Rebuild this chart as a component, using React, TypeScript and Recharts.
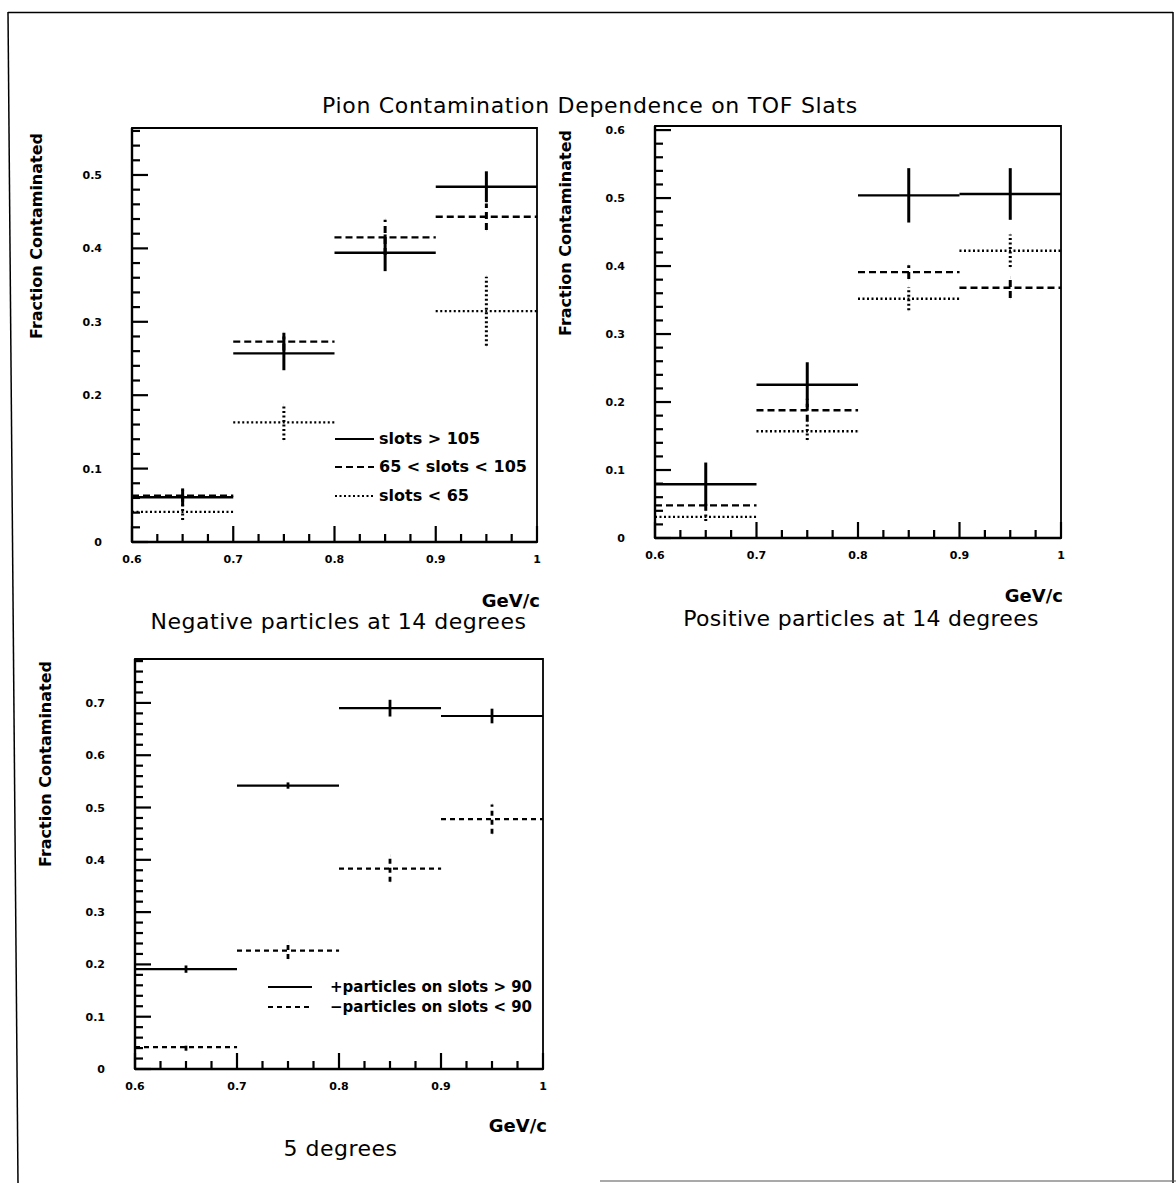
import React from 'react';
import { ComposedChart, Scatter, ErrorBar, XAxis, YAxis, ReferenceArea } from 'recharts';

const FONT = '"DejaVu Sans", sans-serif';

// ---------- data ----------
const binCenters = [0.65, 0.75, 0.85, 0.95];
const binHalfWidths = [0.05, 0.05, 0.05, 0.05];

// Negative particles at 14 degrees
const negGt105 = [0.061, 0.257, 0.394, 0.484];
const negGt105Err = [0.012, 0.023, 0.025, 0.021];
const neg65to105 = [0.063, 0.273, 0.415, 0.443];
const neg65to105Err = [0.008, 0.012, 0.024, 0.018];
const negLt65 = [0.041, 0.163, null, 0.3145];
const negLt65Err = [0.011, 0.024, null, 0.047];

// Positive particles at 14 degrees
const posGt105 = [0.079, 0.2255, 0.504, 0.506];
const posGt105Err = [0.032, 0.033, 0.04, 0.038];
const pos65to105 = [0.048, 0.188, 0.391, 0.368];
const pos65to105Err = [0.008, 0.017, 0.01, 0.015];
const posLt65 = [0.031, 0.157, 0.352, 0.4225];
const posLt65Err = [0.006, 0.013, 0.017, 0.024];

// 5 degrees
const deg5PlusGt90 = [0.191, 0.542, 0.69, 0.675];
const deg5PlusGt90Err = [0.007, 0.006, 0.016, 0.014];
const deg5MinusLt90 = [0.042, 0.2265, 0.383, 0.478];
const deg5MinusLt90Err = [0.007, 0.016, 0.025, 0.028];

// ticks
const xTicks = [0.6, 0.625, 0.65, 0.675, 0.7, 0.725, 0.75, 0.775, 0.8, 0.825, 0.85, 0.875, 0.9, 0.925, 0.95, 0.975, 1.0];
const yTicksNeg14 = [0, 0.02, 0.04, 0.06, 0.08, 0.1, 0.12, 0.14, 0.16, 0.18, 0.2, 0.22, 0.24, 0.26, 0.28, 0.3, 0.32, 0.34, 0.36, 0.38, 0.4, 0.42, 0.44, 0.46, 0.48, 0.5, 0.52, 0.54, 0.56];
const yTicksPos14 = [0, 0.02, 0.04, 0.06, 0.08, 0.1, 0.12, 0.14, 0.16, 0.18, 0.2, 0.22, 0.24, 0.26, 0.28, 0.3, 0.32, 0.34, 0.36, 0.38, 0.4, 0.42, 0.44, 0.46, 0.48, 0.5, 0.52, 0.54, 0.56, 0.58, 0.6];
const yTicks5 = [0, 0.02, 0.04, 0.06, 0.08, 0.1, 0.12, 0.14, 0.16, 0.18, 0.2, 0.22, 0.24, 0.26, 0.28, 0.3, 0.32, 0.34, 0.36, 0.38, 0.4, 0.42, 0.44, 0.46, 0.48, 0.5, 0.52, 0.54, 0.56, 0.58, 0.6, 0.62, 0.64, 0.66, 0.68, 0.7, 0.72, 0.74, 0.76, 0.78];

const mainTitle = 'Pion Contamination Dependence on TOF Slats';
const yLabel = 'Fraction Contaminated';
const xUnit = 'GeV/c';

// ---------- styles ----------
const SOLID = undefined;
const DASHED = '7 4';
const DOTTED = '2 2.5';
const DASHED5 = '5 4';

type Series = { name: string; values: (number | null)[]; errors: (number | null)[]; dash?: string; width: number };

const seriesNeg14: Series[] = [
  { name: 'slots > 105', values: negGt105, errors: negGt105Err, dash: SOLID, width: 2.4 },
  { name: '65 < slots < 105', values: neg65to105, errors: neg65to105Err, dash: DASHED, width: 2.4 },
  { name: 'slots < 65', values: negLt65, errors: negLt65Err, dash: DOTTED, width: 2.4 },
];
const seriesPos14: Series[] = [
  { name: 'slots > 105', values: posGt105, errors: posGt105Err, dash: SOLID, width: 2.4 },
  { name: '65 < slots < 105', values: pos65to105, errors: pos65to105Err, dash: DASHED, width: 2.4 },
  { name: 'slots < 65', values: posLt65, errors: posLt65Err, dash: DOTTED, width: 2.4 },
];
const series5: Series[] = [
  { name: '+particles on slots > 90', values: deg5PlusGt90, errors: deg5PlusGt90Err, dash: SOLID, width: 2.2 },
  { name: '\u2212particles on slots < 90', values: deg5MinusLt90, errors: deg5MinusLt90Err, dash: DASHED5, width: 2.2 },
];

const ML = 112; // y axis width
const MR = 23;
const MT = 28;
const XH = 40;

const isMajor = (v: number) => Math.abs(v * 10 - Math.round(v * 10)) < 1e-6;
const fmt = (v: number) => (Math.abs(v) < 1e-9 ? '0' : Math.abs(v - 1) < 1e-9 ? '1' : v.toFixed(1));

const XTick = (props: any) => {
  const { x, y, payload } = props;
  const v = payload.value as number;
  const major = isMajor(v);
  return (
    <g>
      <line x1={x} x2={x} y1={y} y2={y - (major ? 16 : 8)} stroke="#000" strokeWidth={2.2} />
      {major && (
        <text x={x} y={y + 21} textAnchor="middle" fontSize={11} fontWeight="bold" fontFamily={FONT} fill="#000">
          {fmt(v)}
        </text>
      )}
    </g>
  );
};

const YTick = (props: any) => {
  const { x, y, payload } = props;
  const v = payload.value as number;
  const major = isMajor(v);
  return (
    <g>
      <line x1={x} x2={x + (major ? 16 : 8)} y1={y} y2={y} stroke="#000" strokeWidth={2.2} />
      {major && (
        <text x={x - 30} y={y + 4} textAnchor="end" fontSize={11} fontWeight="bold" fontFamily={FONT} fill="#000">
          {fmt(v)}
        </text>
      )}
    </g>
  );
};

const NoMarker = () => <g />;

const toPoints = (s: Series) =>
  binCenters
    .map((x, i) => ({ x, y: s.values[i], ex: binHalfWidths[i], ey: s.errors[i] }))
    .filter((d) => d.y != null);

type Plot = { left: number; top: number; right: number; bottom: number };

function Panel({ plot, yMax, yTicks, series }: { plot: Plot; yMax: number; yTicks: number[]; series: Series[] }) {
  const W = plot.right - plot.left + ML + MR;
  const H = plot.bottom - plot.top + MT + XH;
  return (
    <div style={{ position: 'absolute', left: plot.left - ML, top: plot.top - MT, width: W, height: H }}>
      <ComposedChart width={W} height={H} margin={{ top: MT, right: MR, bottom: 0, left: 0 }}>
        <XAxis
          type="number"
          dataKey="x"
          domain={[0.6, 1]}
          ticks={xTicks}
          interval={0}
          allowDataOverflow
          tickSize={0}
          tickMargin={0}
          tickLine={false}
          tick={XTick}
          axisLine={{ stroke: '#000', strokeWidth: 2.4 }}
          height={XH}
        />
        <YAxis
          type="number"
          dataKey="y"
          domain={[0, yMax]}
          ticks={yTicks}
          interval={0}
          allowDataOverflow
          tickSize={0}
          tickMargin={0}
          tickLine={false}
          tick={YTick}
          axisLine={{ stroke: '#000', strokeWidth: 2.4 }}
          width={ML}
        />
        <ReferenceArea x1={0.6} x2={1} y1={0} y2={yMax} fill="none" stroke="#000" strokeWidth={1.8} ifOverflow="visible" />
        {series.map((s) => (
          <Scatter key={s.name} name={s.name} data={toPoints(s)} isAnimationActive={false} shape={NoMarker}>
            <ErrorBar
              dataKey="ex"
              direction="x"
              width={0}
              stroke="#000"
              strokeWidth={s.width}
              strokeDasharray={s.dash}
              isAnimationActive={false}
            />
            <ErrorBar
              dataKey="ey"
              direction="y"
              width={0}
              stroke="#000"
              strokeWidth={s.width + 0.6}
              strokeDasharray={s.dash}
              isAnimationActive={false}
            />
          </Scatter>
        ))}
      </ComposedChart>
    </div>
  );
}

function LegendBlock({ series, x0, x1, textX, ys, fontSize }: { series: Series[]; x0: number; x1: number; textX: number; ys: number[]; fontSize: number }) {
  return (
    <g>
      {series.map((s, i) => (
        <g key={s.name}>
          <line x1={x0} x2={x1} y1={ys[i]} y2={ys[i]} stroke="#000" strokeWidth={2} strokeDasharray={s.dash} />
          <text x={textX} y={ys[i] + 5} fontSize={fontSize} fontWeight="bold" fontFamily={FONT} fill="#000">
            {s.name}
          </text>
        </g>
      ))}
    </g>
  );
}

export default function App() {
  return (
    <div style={{ position: 'absolute', left: 0, top: 0, width: 1176, height: 1183, background: '#fff', overflow: 'hidden' }}>
      <Panel plot={{ left: 132, top: 128, right: 537, bottom: 542 }} yMax={0.564} yTicks={yTicksNeg14} series={seriesNeg14} />
      <Panel plot={{ left: 655, top: 126, right: 1061, bottom: 538 }} yMax={0.606} yTicks={yTicksPos14} series={seriesPos14} />
      <Panel plot={{ left: 135, top: 659, right: 543, bottom: 1069 }} yMax={0.784} yTicks={yTicks5} series={series5} />
      <svg width={1176} height={1183} style={{ position: 'absolute', left: 0, top: 0, pointerEvents: 'none' }}>
        {/* outer frame */}
        <line x1={8} y1={12.5} x2={1173} y2={12.5} stroke="#000" strokeWidth={1.5} />
        <line x1={8} y1={12} x2={18} y2={1183} stroke="#000" strokeWidth={1.5} />
        <line x1={1173} y1={12} x2={1173} y2={1183} stroke="#000" strokeWidth={1.5} />
        <line x1={600} y1={1181} x2={1176} y2={1181} stroke="#555" strokeWidth={1.2} />

        <text x={590} y={113} textAnchor="middle" fontSize={22} letterSpacing={0.7} fontFamily={FONT} fill="#000">
          {mainTitle}
        </text>

        {/* y labels */}
        <text transform="translate(42,236) rotate(-90)" textAnchor="middle" fontSize={16} fontWeight="bold" fontFamily={FONT} fill="#000">{yLabel}</text>
        <text transform="translate(571,233) rotate(-90)" textAnchor="middle" fontSize={16} fontWeight="bold" fontFamily={FONT} fill="#000">{yLabel}</text>
        <text transform="translate(51,764) rotate(-90)" textAnchor="middle" fontSize={16} fontWeight="bold" fontFamily={FONT} fill="#000">{yLabel}</text>

        {/* x units */}
        <text x={540} y={607} textAnchor="end" fontSize={18} fontWeight="bold" fontFamily={FONT} fill="#000">{xUnit}</text>
        <text x={1063} y={602} textAnchor="end" fontSize={18} fontWeight="bold" fontFamily={FONT} fill="#000">{xUnit}</text>
        <text x={547} y={1132} textAnchor="end" fontSize={18} fontWeight="bold" fontFamily={FONT} fill="#000">{xUnit}</text>

        {/* panel titles */}
        <text x={338.5} y={629} textAnchor="middle" fontSize={22} letterSpacing={0.5} fontFamily={FONT} fill="#000">Negative particles at 14 degrees</text>
        <text x={861} y={626} textAnchor="middle" fontSize={22} letterSpacing={0.3} fontFamily={FONT} fill="#000">Positive particles at 14 degrees</text>
        <text x={340.5} y={1156} textAnchor="middle" fontSize={22} letterSpacing={0.5} fontFamily={FONT} fill="#000">5 degrees</text>

        {/* legends */}
        <LegendBlock series={seriesNeg14} x0={335} x1={374} textX={379} ys={[439, 467, 496]} fontSize={16} />
        <LegendBlock series={series5} x0={268} x1={312} textX={330} ys={[987, 1007]} fontSize={15} />
      </svg>
    </div>
  );
}
